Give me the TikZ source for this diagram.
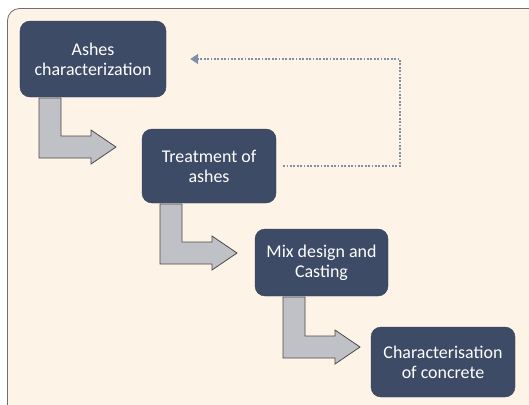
\documentclass[tikz,border=0pt]{standalone}
\usepackage{fontspec}
\setmainfont{Carlito}
\usetikzlibrary{arrows.meta,calc}
\definecolor{bgcream}{HTML}{FEF3E7}
\definecolor{frameline}{HTML}{6E6E6E}
\definecolor{boxnavy}{HTML}{3E4B66}
\definecolor{arrowfill}{HTML}{BFC1C6}
\definecolor{arrowline}{HTML}{4A4A4A}
\definecolor{dotblue}{HTML}{7F8FAA}
\tikzset{
  stepbox/.style={draw=boxnavy!85!black, fill=boxnavy, rounded corners=10bp, text=white,
    align=center, font=\fontsize{18}{20}\selectfont, inner sep=0pt},
  bentarrow/.style={draw=arrowline, fill=arrowfill, line width=0.8bp, line join=miter},
  feedback/.style={draw=dotblue, line width=2bp, dash pattern=on 1.8bp off 1.6bp,
    -{Triangle[length=8bp,width=10bp]}}
}
\newcommand{\bentarr}[4]{%
  \path[bentarrow] (#1,#2) -- (#1+22,#2) -- (#1+22,#3-11) -- (#4-25,#3-11) -- (#4-25,#3-17)
    -- (#4,#3) -- (#4-25,#3+17) -- (#4-25,#3+11) -- (#1,#3+11) -- cycle;}
\begin{document}
\begin{tikzpicture}[x=1bp,y=-1bp]
\useasboundingbox (0,0) rectangle (529,404);
\fill[white] (0,0) rectangle (529,404);
\begin{scope}
\clip (0,0) rectangle (529,404);
\draw[frameline, fill=bgcream, line width=0.8bp, rounded corners=12bp] (7.5,8.5) rectangle (545,420);
\end{scope}
\node[stepbox, minimum width=146bp, minimum height=76bp] (a) at (93,59) {Ashes\\characterization};
\node[stepbox, minimum width=134bp, minimum height=74bp] (b) at (209,166) {Treatment of\\ashes};
\node[stepbox, minimum width=133bp, minimum height=67bp] (c) at (321.5,262.5) {Mix design and\\Casting};
\node[stepbox, minimum width=144bp, minimum height=70bp] (d) at (443,362) {Characterisation\\of concrete};
\bentarr{39}{98}{147}{116}
\bentarr{160}{204}{253}{237}
\bentarr{283}{297}{347}{360}
\coordinate (f1) at (400,166);
\coordinate (f2) at (400,59);
\draw[feedback] ([xshift=7bp]b.east) -- (f1) -- (f2) -- ([xshift=24bp]a.east);
\end{tikzpicture}
\end{document}
